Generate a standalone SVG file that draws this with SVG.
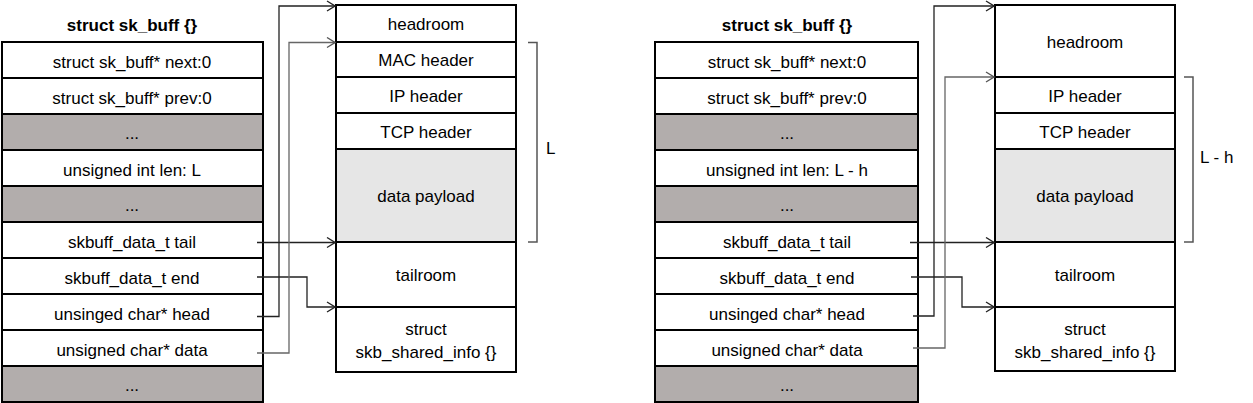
<svg xmlns="http://www.w3.org/2000/svg" width="1253" height="403" viewBox="0 0 1253 403">
<style>
text{font-family:"Liberation Sans",Arial,sans-serif;font-size:17px;fill:#000;text-anchor:middle}
.title{font-weight:bold}
.w{fill:#fff;stroke:#000;stroke-width:2}
.g{fill:#b2adac;stroke:#000;stroke-width:2}
.p{fill:#e6e6e6;stroke:#000;stroke-width:2}
.c{fill:none;stroke:#222;stroke-width:1.3}
.c2{fill:none;stroke:#666;stroke-width:1.3}
.br{fill:none;stroke:#555;stroke-width:1.5}
.lbl{text-anchor:start}
</style>
<defs>
<marker id="ah" markerWidth="10" markerHeight="12" refX="9" refY="6" orient="auto" markerUnits="userSpaceOnUse">
<path d="M1,1 L9,6 L1,11" fill="none" stroke="#222" stroke-width="1.3"/>
</marker>
<marker id="ah2" markerWidth="10" markerHeight="12" refX="9" refY="6" orient="auto" markerUnits="userSpaceOnUse">
<path d="M1,1 L9,6 L1,11" fill="none" stroke="#555" stroke-width="1.3"/>
</marker>
</defs>

<!-- LEFT -->
<g id="left-skbuff">
<text class="title" x="132" y="31">struct sk_buff {}</text>
<rect class="w" x="2" y="42" width="261" height="36"/><text x="132" y="68">struct sk_buff* next:0</text>
<rect class="w" x="2" y="78" width="261" height="36"/><text x="132" y="104">struct sk_buff* prev:0</text>
<rect class="g" x="2" y="114" width="261" height="36"/><text x="132" y="139">...</text>
<rect class="w" x="2" y="150" width="261" height="36"/><text x="132" y="176">unsigned int len: L</text>
<rect class="g" x="2" y="186" width="261" height="36"/><text x="132" y="211">...</text>
<rect class="w" x="2" y="222" width="261" height="36"/><text x="132" y="248">skbuff_data_t tail</text>
<rect class="w" x="2" y="258" width="261" height="36"/><text x="132" y="284">skbuff_data_t end</text>
<rect class="w" x="2" y="294" width="261" height="36"/><text x="132" y="320">unsinged char* head</text>
<rect class="w" x="2" y="330" width="261" height="36"/><text x="132" y="356">unsigned char* data</text>
<rect class="g" x="2" y="366" width="261" height="36"/><text x="132" y="391">...</text>
</g>
<g id="left-buffer">
<rect class="w" x="336" y="5" width="180" height="37"/><text x="426" y="30">headroom</text>
<rect class="w" x="336" y="42" width="180" height="35"/><text x="426" y="66">MAC header</text>
<rect class="w" x="336" y="77" width="180" height="36"/><text x="426" y="102">IP header</text>
<rect class="w" x="336" y="113" width="180" height="36"/><text x="426" y="138">TCP header</text>
<rect class="p" x="336" y="149" width="180" height="93"/><text x="426" y="202">data payload</text>
<rect class="w" x="336" y="242" width="180" height="65"/><text x="426" y="281">tailroom</text>
<rect class="w" x="336" y="307" width="180" height="65"/><text x="426" y="335">struct</text><text x="426" y="358">skb_shared_info {}</text>
</g>
<g id="left-length">
<path class="br" d="M528,42.5 H537 V242 H528"/>
<text class="lbl" x="546" y="154">L</text>
</g>

<!-- RIGHT -->
<g id="right-skbuff">
<text class="title" x="787" y="31">struct sk_buff {}</text>
<rect class="w" x="655" y="42" width="263" height="36"/><text x="787" y="68">struct sk_buff* next:0</text>
<rect class="w" x="655" y="78" width="263" height="36"/><text x="787" y="104">struct sk_buff* prev:0</text>
<rect class="g" x="655" y="114" width="263" height="36"/><text x="787" y="139">...</text>
<rect class="w" x="655" y="150" width="263" height="36"/><text x="787" y="176">unsigned int len: L - h</text>
<rect class="g" x="655" y="186" width="263" height="36"/><text x="787" y="211">...</text>
<rect class="w" x="655" y="222" width="263" height="36"/><text x="787" y="248">skbuff_data_t tail</text>
<rect class="w" x="655" y="258" width="263" height="36"/><text x="787" y="284">skbuff_data_t end</text>
<rect class="w" x="655" y="294" width="263" height="36"/><text x="787" y="320">unsinged char* head</text>
<rect class="w" x="655" y="330" width="263" height="36"/><text x="787" y="356">unsigned char* data</text>
<rect class="g" x="655" y="366" width="263" height="36"/><text x="787" y="391">...</text>
</g>
<g id="right-buffer">
<rect class="w" x="995" y="5" width="180" height="72"/><text x="1085" y="48">headroom</text>
<rect class="w" x="995" y="77" width="180" height="36"/><text x="1085" y="102">IP header</text>
<rect class="w" x="995" y="113" width="180" height="36"/><text x="1085" y="138">TCP header</text>
<rect class="p" x="995" y="149" width="180" height="93"/><text x="1085" y="202">data payload</text>
<rect class="w" x="995" y="242" width="180" height="65"/><text x="1085" y="281">tailroom</text>
<rect class="w" x="995" y="307" width="180" height="64"/><text x="1085" y="335">struct</text><text x="1085" y="358">skb_shared_info {}</text>
</g>
<g id="right-length">
<path class="br" d="M1184,77 H1193 V242 H1184"/>
<text class="lbl" x="1200" y="163">L - h</text>
</g>

<g id="connectors">
<path class="c" d="M257,242.5 H335" marker-end="url(#ah)"/>
<path class="c" d="M257,277 H307 V307 H335" marker-end="url(#ah)"/>
<path class="c" d="M257,316.5 H279 V6 H335" marker-end="url(#ah)"/>
<path class="c2" d="M257,353 H289 V42.5 H335" marker-end="url(#ah2)"/>

<path class="c" d="M910,242.5 H994" marker-end="url(#ah)"/>
<path class="c" d="M911,277 H962 V307 H994" marker-end="url(#ah)"/>
<path class="c" d="M913,316 H934 V6 H994" marker-end="url(#ah)"/>
<path class="c2" d="M913,348 H945 V77 H994" marker-end="url(#ah2)"/>
</g>
</svg>
